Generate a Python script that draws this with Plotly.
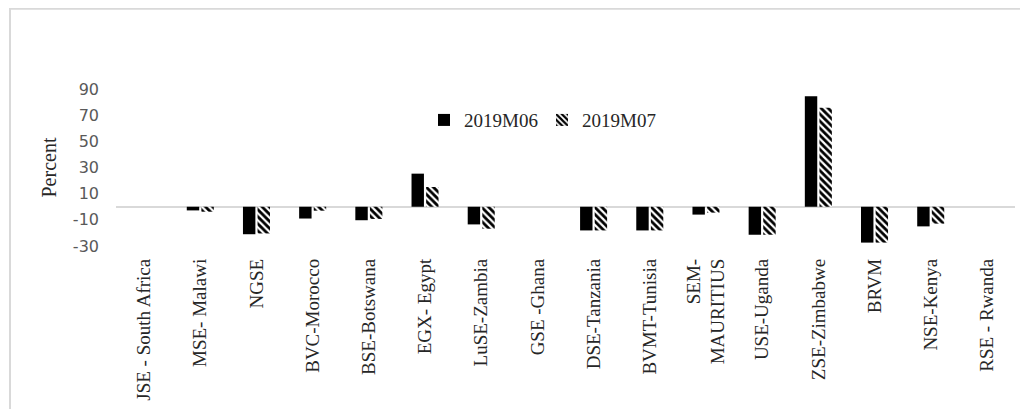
import plotly.graph_objects as go

categories = ["JSE - South Africa", "MSE- Malawi", "NGSE", "BVC-Morocco", "BSE-Botswana",
              "EGX- Egypt", "LuSE-Zambia", "GSE -Ghana", "DSE-Tanzania", "BVMT-Tunisia",
              "SEM-<br>MAURITIUS", "USE-Uganda", "ZSE-Zimbabwe", "BRVM", "NSE-Kenya", "RSE - Rwanda"]
m06 = [0, -2.8, -21.0, -9.0, -10.3, 25.3, -13.5, 0, -18.1, -18.1, -6.0, -21.4, 84.5, -27.4, -15.0, 0]
m07 = [0, -3.8, -20.4, -3.0, -9.3, 15.1, -16.8, 0, -18.1, -18.1, -4.5, -21.4, 75.6, -27.4, -12.9, 0]
y_ticks = [-30, -10, 10, 30, 50, 70, 90]
y_tick_text = ["-30", "-10", "10", "30", "50", "70", "90"]

# page body has an 8px margin: figure is offset by (8, 8)
OFF = 8
W, H = 1012, 401
L = 116 - OFF
T = 89 - OFF
plot_right = 1015 - OFF
plot_bottom = 245.6 - OFF
R = W - plot_right
B = H - plot_bottom
pw = plot_right - L
ph = plot_bottom - T

fig = go.Figure()
fig.add_trace(go.Bar(name="2019M06", x=categories, y=m06,
                     marker=dict(color="black", line=dict(width=0))))
fig.add_trace(go.Bar(name="2019M07", x=categories, y=m07,
                     marker=dict(color="white", line=dict(width=0),
                                 pattern=dict(shape="\\", fgcolor="black", bgcolor="white",
                                              size=5, solidity=0.55, fillmode="replace"))))

serif = "Liberation Serif, Times New Roman, serif"

fig.update_layout(
    width=W, height=H,
    margin=dict(l=L, r=R, t=T, b=B, autoexpand=False),
    paper_bgcolor="white", plot_bgcolor="white",
    barmode="group", bargap=0.48, bargroupgap=0.15,
    showlegend=True,
    legend=dict(orientation="h", x=(424 - OFF - L) / pw, xanchor="left",
                y=(plot_bottom - (120 - OFF)) / ph, yanchor="middle",
                font=dict(family=serif, size=19, color="#262626"),
                itemwidth=30, entrywidth=73, entrywidthmode="pixels",
                bgcolor="rgba(0,0,0,0)"),
    xaxis=dict(showgrid=False, showline=False, zeroline=False, ticks="",
               tickangle=-90, tickfont=dict(family=serif, size=19, color="#262626"),
               ticklabelstandoff=8, automargin=False),
    yaxis=dict(range=[-30, 90], tickvals=y_ticks, ticktext=y_tick_text,
               showgrid=False, showline=False,
               zeroline=True, zerolinecolor="#d9d9d9", zerolinewidth=2,
               ticks="", tickfont=dict(family="DejaVu Sans, Tahoma, sans-serif", size=16, color="#595959"),
               ticklabelstandoff=16, automargin=False,
               title=dict(text="Percent", font=dict(family=serif, size=20, color="#262626"), standoff=10)),
    shapes=[dict(type="rect", xref="paper", yref="paper",
                 x0=(10 - OFF - L) / pw, y0=(plot_bottom - (9 - OFF)) / ph, x1=1.2, y1=-3,
                 line=dict(color="#d9d9d9", width=2), fillcolor="rgba(0,0,0,0)", layer="below")],
)

fig.write_html("out.html")
